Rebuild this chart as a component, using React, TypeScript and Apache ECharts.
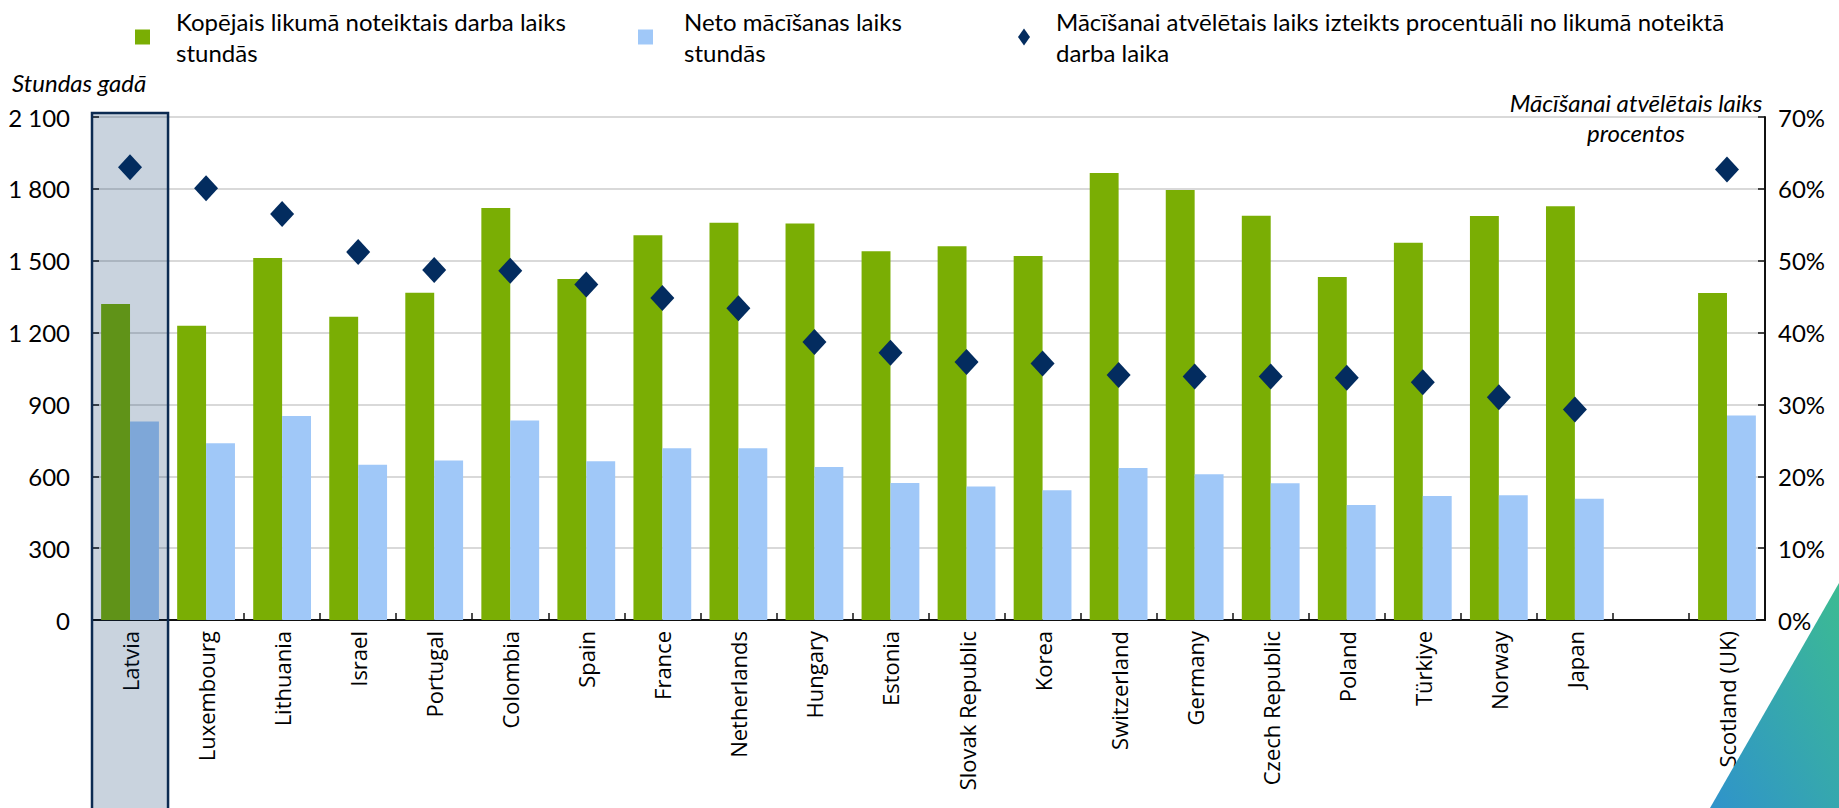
import React, { useEffect, useRef } from 'react';
import * as echarts from 'echarts';

const categories = [
  'Latvia', 'Luxembourg', 'Lithuania', 'Israel', 'Portugal', 'Colombia', 'Spain', 'France',
  'Netherlands', 'Hungary', 'Estonia', 'Slovak Republic', 'Korea', 'Switzerland', 'Germany',
  'Czech Republic', 'Poland', 'Türkiye', 'Norway', 'Japan', '', 'Scotland (UK)',
];

const totalHours = [
  1319, 1228, 1511, 1266, 1366, 1720, 1424, 1606, 1659, 1655, 1540, 1560, 1520, 1866, 1795,
  1688, 1432, 1575, 1687, 1727, null, 1365,
];

const netHours = [
  829, 738, 852, 648, 666, 833, 663, 717, 717, 639, 572, 557, 542, 635, 609,
  571, 480, 518, 521, 506, null, 854,
];

const teachingShare = [
  63.0, 60.1, 56.5, 51.2, 48.7, 48.6, 46.7, 44.8, 43.4, 38.7, 37.2, 35.9, 35.7, 34.1, 33.9,
  33.9, 33.7, 33.1, 31.0, 29.3, null, 62.7,
];

const seriesNames = [
  'Kopējais likumā noteiktais darba laiks\nstundās',
  'Neto mācīšanas laiks\nstundās',
  'Mācīšanai atvēlētais laiks izteikts procentuāli no likumā noteiktā\ndarba laika',
];

const highlightCategory = 'Latvia';
const leftAxisTitle = 'Stundas gadā';
const rightAxisTitle = 'Mācīšanai atvēlētais laiks\nprocentos';

const GREEN = '#7aae04';
const BLUE = '#a0c8f8';
const NAVY = '#032c5f';
const LABEL_FONT = 'Lato';
const CAT_FONT = "'Open Sans'";

function fmtThousands(v: number): string {
  if (v >= 1000) {
    const th = Math.floor(v / 1000);
    const rest = String(v % 1000).padStart(3, '0');
    return `${th} ${rest}`;
  }
  return String(v);
}

export default function App() {
  const ref = useRef<HTMLDivElement>(null);

  useEffect(() => {
    if (!ref.current) return;
    const chart = echarts.init(ref.current, null, { renderer: 'svg' });

    const legendText = (pad: number) => ({
      fontFamily: LABEL_FONT,
      fontSize: 24,
      lineHeight: 31,
      color: '#000',
      padding: [0, 0, 0, pad],
    });

    const option: any = {
      animation: false,
      backgroundColor: '#ffffff',
      legend: [
        {
          data: [seriesNames[0]], left: 135, top: 6, padding: 0,
          itemWidth: 15, itemHeight: 15, icon: 'rect', textStyle: legendText(21),
        },
        {
          data: [seriesNames[1]], left: 638, top: 6, padding: 0,
          itemWidth: 15, itemHeight: 15, icon: 'rect', textStyle: legendText(26),
        },
        {
          data: [seriesNames[2]], left: 1018, top: 6, padding: 0,
          itemWidth: 12, itemHeight: 17, icon: 'diamond', textStyle: legendText(21),
          itemStyle: { opacity: 1 },
        },
      ],
      grid: { left: 92, right: 74, top: 117, bottom: 188, containLabel: false },
      xAxis: {
        type: 'category',
        data: categories,
        axisLine: { show: true, lineStyle: { color: '#111', width: 2 } },
        axisTick: { show: true, inside: true, length: 7, lineStyle: { color: '#111', width: 1.5 } },
        axisLabel: {
          interval: 0, rotate: 90, margin: 11,
          fontFamily: CAT_FONT, fontSize: 22, color: '#000',
        },
        splitLine: { show: false },
      },
      yAxis: [
        {
          type: 'value', min: 0, max: 2100, interval: 300,
          axisLine: { show: true, lineStyle: { color: '#111', width: 2 } },
          axisTick: { show: true, inside: true, length: 7, lineStyle: { color: '#111', width: 1.5 } },
          axisLabel: {
            margin: 22, fontFamily: LABEL_FONT, fontSize: 24, color: '#000',
            formatter: (v: number) => fmtThousands(v),
          },
          splitLine: { show: true, lineStyle: { color: '#d9d9d9', width: 2 } },
        },
        {
          type: 'value', min: 0, max: 70, interval: 10, position: 'right',
          axisLine: { show: true, lineStyle: { color: '#111', width: 2 } },
          axisTick: { show: true, inside: true, length: 7, lineStyle: { color: '#111', width: 1.5 } },
          axisLabel: {
            margin: 13, fontFamily: LABEL_FONT, fontSize: 24, color: '#000',
            formatter: '{value}%',
          },
          splitLine: { show: false },
        },
      ],
      series: [
        {
          name: seriesNames[0], type: 'bar', data: totalHours,
          itemStyle: { color: GREEN }, barGap: '0%', barCategoryGap: '24%',
        },
        {
          name: seriesNames[1], type: 'bar', data: netHours,
          itemStyle: { color: BLUE }, barGap: '0%', barCategoryGap: '24%',
        },
        {
          name: seriesNames[2], type: 'scatter', yAxisIndex: 1, data: teachingShare,
          symbol: 'diamond', symbolSize: [24, 26], z: 5,
          itemStyle: { color: NAVY, opacity: 1 },
        },
      ],
    };

    chart.setOption(option);

    const idx = categories.indexOf(highlightCategory);
    const c0 = chart.convertToPixel({ xAxisIndex: 0 }, idx) as number;
    const c1 = chart.convertToPixel({ xAxisIndex: 0 }, idx + 1) as number;
    const band = c1 - c0;
    const yTop = chart.convertToPixel({ yAxisIndex: 0 }, 2100) as number;
    const w = chart.getWidth();
    const h = chart.getHeight();

    chart.setOption({
      graphic: [
        {
          id: 'hl', type: 'rect', z: 100, silent: true,
          shape: { x: c0 - band / 2, y: yTop - 4, width: band, height: h - yTop + 10 },
          style: { fill: 'rgba(0,45,98,0.21)', stroke: '#0c2b52', lineWidth: 2.5 },
        },
        {
          id: 'lt', type: 'text', z: 100, silent: true,
          style: {
            text: leftAxisTitle, x: 12, y: 82, verticalAlign: 'middle', align: 'left',
            font: `italic 24px ${LABEL_FONT}`, fill: '#000',
          },
        },
        {
          id: 'rt', type: 'text', z: 100, silent: true,
          style: {
            text: rightAxisTitle, x: 1636, y: yTop, verticalAlign: 'middle', align: 'center',
            font: `italic 24px ${LABEL_FONT}`, lineHeight: 30, fill: '#000',
          },
        },
        {
          id: 'corner', type: 'polygon', z: 100, silent: true,
          shape: { points: [[w, h - 225], [w - 129, h], [w, h]] },
          style: {
            fill: new echarts.graphic.LinearGradient(1, 0, 0, 1, [
              { offset: 0, color: '#3cbb92' },
              { offset: 1, color: '#2f93cb' },
            ]),
          },
        },
      ],
    });

    return () => chart.dispose();
  }, []);

  return (
    <div
      ref={ref}
      style={{ position: 'fixed', left: 0, top: 0, width: 1839, height: 808, background: '#fff' }}
    />
  );
}
